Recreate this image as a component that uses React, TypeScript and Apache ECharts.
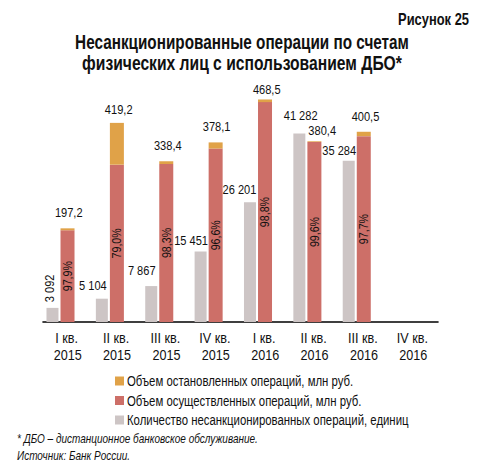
import React, { useEffect, useRef } from "react";
import * as echarts from "echarts";

const categories = ["I кв.", "II кв.", "III кв.", "IV кв.", "I кв.", "II кв.", "III кв.", "IV кв."];
const years = ["2015", "2015", "2015", "2015", "2016", "2016", "2016", "2016"];
// Количество несанкционированных операций, единиц
const counts: (number | null)[] = [3092, 5104, 7867, 15451, 26201, 41282, 35284, null];
// Общий объем операций, млн руб.
const totals: (number | null)[] = [197.2, 419.2, 338.4, 378.1, 468.5, 380.4, 400.5, null];
// Доля осуществленных операций, %
const executedShare: (number | null)[] = [97.9, 79.0, 98.3, 96.6, 98.8, 99.6, 97.7, null];

const legendNames = [
  "Объем остановленных операций, млн руб.",
  "Объем осуществленных операций, млн руб.",
  "Количество несанкционированных операций, единиц",
];

// label placement tweaks: [dx from bar centre, rise of label centre above bar top] (px)
const countLabelShift: [number, number][] = [
  [-2.8, 5.7], [-9, 13.3], [-9.5, 15.3], [-9.5, 11], [-10.5, 12.7], [1.3, 17.6], [-9.5, 10], [0, 12],
];
const totalLabelShift: [number, number][] = [
  [1.2, 15.6], [1.8, 13.4], [1.5, 16], [1, 16], [1.7, 9.5], [7.8, 11], [1.7, 15.5], [0, 12],
];

const executed = totals.map((t, i) =>
  t == null || executedShare[i] == null ? null : +((t * (executedShare[i] as number)) / 100).toFixed(1)
);
const stopped = totals.map((t, i) =>
  t == null || executed[i] == null ? null : +(t - (executed[i] as number)).toFixed(1)
);

const FONT = "'Liberation Sans', Arial, sans-serif";
const TXT = "#111111";
const C_ORANGE = "#E0A248";
const C_RED = "#CD6F68";
const C_GRAY = "#CDC5C5";
const NARROW = 0.82;

const GRAY_W = 12;
const RED_W = 14;
const PAD_W = 12;
const GAP = 0.17;
const WSUM = GRAY_W * (1 + GAP) + RED_W * (1 + GAP) + PAD_W;
const GRAY_OFF = -WSUM / 2 + GRAY_W / 2;
const RED_OFF = -WSUM / 2 + GRAY_W * (1 + GAP) + RED_W / 2;

const fmtCount = (v: number) => String(v).replace(/\B(?=(\d{3})+(?!\d))/g, " ");
const fmtDec = (v: number) => v.toFixed(1).replace(".", ",");

let measureCtx: CanvasRenderingContext2D | null = null;
function fitScale(text: string, font: string, width: number) {
  if (!measureCtx) measureCtx = document.createElement("canvas").getContext("2d");
  if (!measureCtx) return NARROW;
  measureCtx.font = font;
  const w = measureCtx.measureText(text).width;
  return w > 0 ? width / w : NARROW;
}

function txt(x: number, y: number, text: string, fontSize: number, extra: any = {}) {
  return {
    type: "text",
    x,
    y,
    scaleX: extra.scaleX ?? NARROW,
    rotation: extra.rotation ?? 0,
    silent: true,
    style: {
      text,
      fontFamily: FONT,
      fontSize,
      fontWeight: extra.fontWeight ?? "normal",
      fontStyle: extra.fontStyle ?? "normal",
      fill: TXT,
      align: extra.align ?? "center",
      verticalAlign: extra.verticalAlign ?? "middle",
    },
  };
}

export default function App() {
  const ref = useRef<HTMLDivElement>(null);
  useEffect(() => {
    if (!ref.current) return;
    const chart = echarts.init(ref.current, null, { renderer: "svg" });

    const t1 = "Несанкционированные операции по счетам";
    const t2 = "физических лиц с использованием ДБО*";
    const titleFont = `bold 19.5px ${FONT}`;
    const fig = "Рисунок 25";
    const figFont = `bold 16px ${FONT}`;
    const legFont = `15px ${FONT}`;
    const legScale = fitScale(legendNames[2], legFont, 282);
    const noteFont = `italic 12.5px ${FONT}`;
    const note1 = "* ДБО – дистанционное банковское обслуживание.";
    const note2 = "Источник: Банк России.";
    const noteScale = fitScale(note1, noteFont, 241);

    const legendColors = [C_ORANGE, C_RED, C_GRAY];
    const legendY = [381, 400.5, 420];

    const graphic: any[] = [
      txt(469, 19, fig, 16, { fontWeight: "bold", align: "right", scaleX: fitScale(fig, figFont, 71) }),
      txt(242, 42.7, t1, 19.5, { fontWeight: "bold", scaleX: fitScale(t1, titleFont, 334) }),
      txt(242, 63.5, t2, 19.5, { fontWeight: "bold", scaleX: fitScale(t2, titleFont, 320) }),
      txt(17, 439, note1, 12.5, { fontStyle: "italic", align: "left", scaleX: noteScale }),
      txt(17, 456, note2, 12.5, { fontStyle: "italic", align: "left", scaleX: noteScale }),
    ];
    legendNames.forEach((n, k) => {
      graphic.push({
        type: "rect",
        silent: true,
        shape: { x: 115, y: legendY[k] - 4.5, width: 9, height: 9 },
        style: { fill: legendColors[k] },
      });
      graphic.push(txt(127, legendY[k], n, 15, { align: "left", scaleX: legScale }));
    });

    chart.setOption({
      animation: false,
      textStyle: { fontFamily: FONT, color: TXT },
      grid: { left: 43, right: 66, top: 84.5, bottom: 154, containLabel: false },
      legend: { show: false, data: legendNames },
      xAxis: {
        type: "category",
        data: categories.map((c, i) => c + "\n" + years[i]),
        axisLine: { lineStyle: { color: "#000", width: 1.6 } },
        axisTick: { length: 5, interval: 0, lineStyle: { color: "#000", width: 1.4 } },
        axisLabel: { show: false, interval: 0 },
      },
      yAxis: [
        { type: "value", min: 0, max: 500, show: false, splitLine: { show: false } },
        { type: "value", min: 0, max: 52000, show: false, splitLine: { show: false } },
      ],
      series: [
        {
          name: legendNames[2],
          type: "bar",
          yAxisIndex: 1,
          barWidth: GRAY_W,
          barGap: GAP * 100 + "%",
          itemStyle: { color: C_GRAY },
          data: counts,
        },
        {
          name: legendNames[1],
          type: "bar",
          stack: "vol",
          yAxisIndex: 0,
          barWidth: RED_W,
          barGap: GAP * 100 + "%",
          itemStyle: { color: C_RED },
          data: executed,
        },
        {
          name: legendNames[0],
          type: "bar",
          stack: "vol",
          yAxisIndex: 0,
          barWidth: RED_W,
          barGap: GAP * 100 + "%",
          itemStyle: { color: C_ORANGE },
          data: stopped,
        },
        {
          name: "pad",
          type: "bar",
          yAxisIndex: 0,
          barWidth: PAD_W,
          barGap: GAP * 100 + "%",
          silent: true,
          itemStyle: { color: "transparent" },
          data: categories.map(() => null),
        },
        {
          name: "countLabels",
          type: "custom",
          yAxisIndex: 1,
          clip: false,
          silent: true,
          z: 10,
          data: counts.map((v, i) => [i, v == null ? 0 : v]),
          renderItem: (params: any, api: any) => {
            const i = params.dataIndex;
            const v = counts[i];
            if (v == null) return { type: "group", children: [] };
            const [cx, top] = api.coord([i, v]);
            const [dx, rise] = countLabelShift[i];
            const x = cx + GRAY_OFF + dx;
            if (i === 0) {
              return txt(x, top - rise, fmtCount(v), 13.5, {
                rotation: Math.PI / 2,
                align: "left",
                verticalAlign: "middle",
              });
            }
            return txt(x, top - rise, fmtCount(v), 13.5);
          },
        },
        {
          name: "volumeLabels",
          type: "custom",
          yAxisIndex: 0,
          clip: false,
          silent: true,
          z: 10,
          data: totals.map((v, i) => [i, v == null ? 0 : v]),
          renderItem: (params: any, api: any) => {
            const i = params.dataIndex;
            const t = totals[i];
            const e = executed[i];
            const s = executedShare[i];
            if (t == null || e == null || s == null) return { type: "group", children: [] };
            const [cx, top] = api.coord([i, t]);
            const [, eTop] = api.coord([i, e]);
            const [, base] = api.coord([i, 0]);
            const [dx, rise] = totalLabelShift[i];
            return {
              type: "group",
              children: [
                txt(cx + RED_OFF + dx, top - rise, fmtDec(t), 13.5),
                txt(cx + RED_OFF, (eTop + base) / 2, fmtDec(s) + "%", 13, { rotation: Math.PI / 2 }),
              ],
            };
          },
        },
        {
          name: "axisLabels",
          type: "custom",
          yAxisIndex: 0,
          clip: false,
          silent: true,
          z: 10,
          data: categories.map((c, i) => [i, 0]),
          renderItem: (params: any, api: any) => {
            const i = params.dataIndex;
            const [cx, base] = api.coord([i, 0]);
            return {
              type: "group",
              children: [
                txt(cx - 1, base + 16, categories[i], 15.4),
                txt(cx, base + 33, years[i], 15.4),
              ],
            };
          },
        },
      ],
      graphic,
    });
    return () => chart.dispose();
  }, []);
  return (
    <div
      ref={ref}
      style={{ position: "fixed", left: 0, top: 0, width: 504, height: 476, background: "#fff" }}
    />
  );
}
